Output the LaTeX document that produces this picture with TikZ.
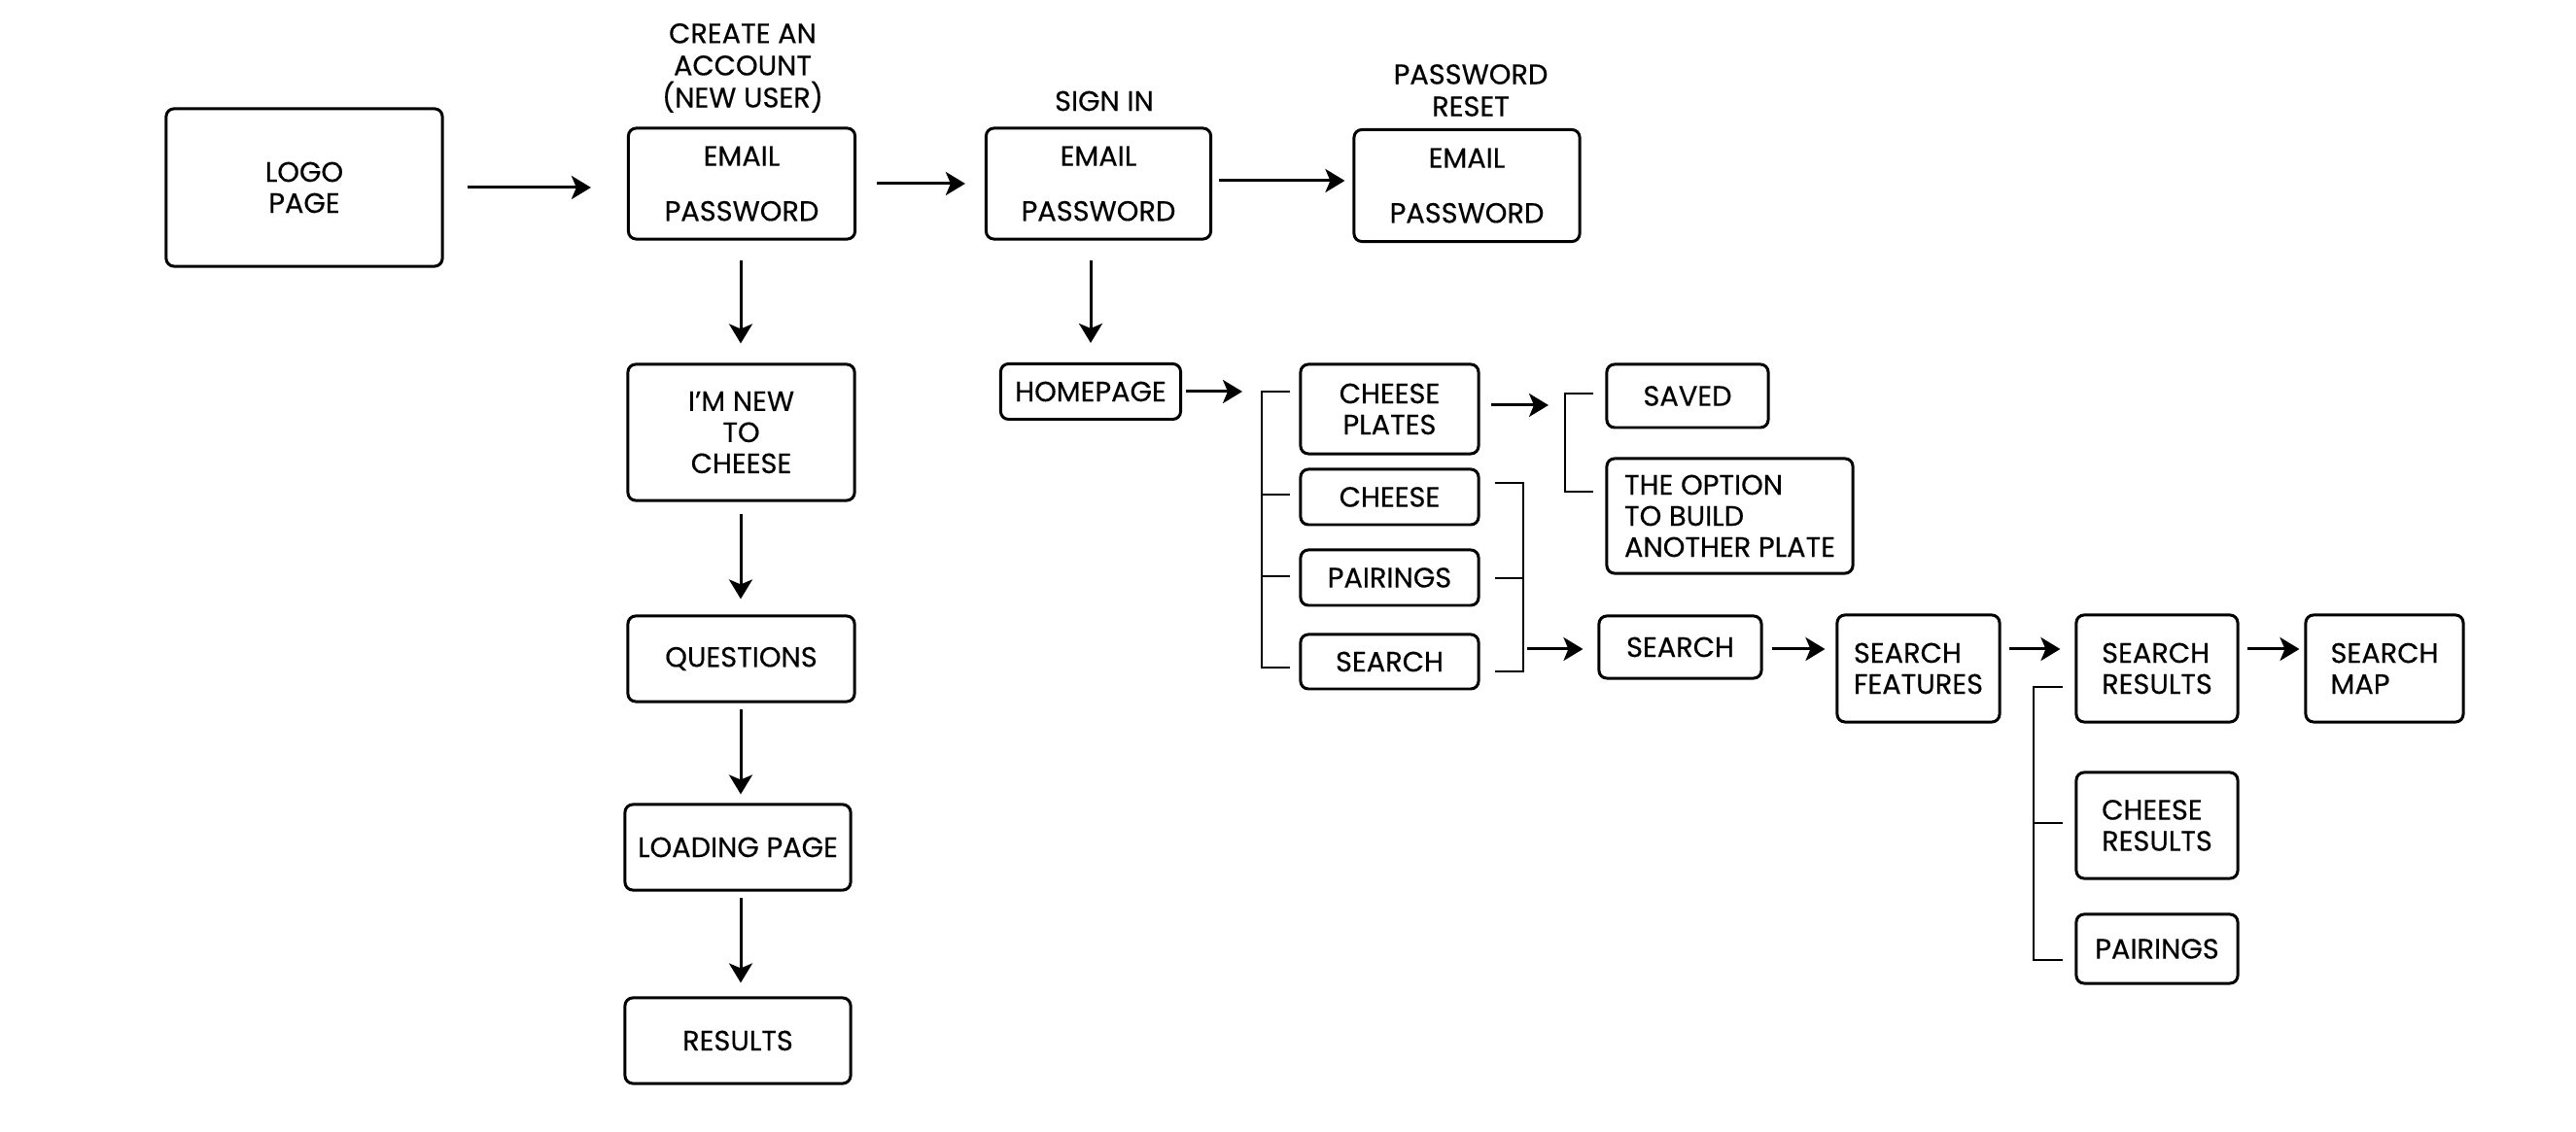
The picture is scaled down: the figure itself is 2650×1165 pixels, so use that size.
\documentclass[tikz,border=0pt]{standalone}
\usepackage{fontspec}
\setmainfont{Poppins}[FakeBold=0.35]
\usetikzlibrary{arrows.meta}
\newcommand\fsz{\fontsize{8.2}{9.1}\selectfont}
\begin{document}
\begin{tikzpicture}[x=0.01cm,y=-0.01cm,
  box/.style={draw, line width=0.85pt, rounded corners=0.08cm, inner sep=0pt, align=center, font=\fsz},
  lbox/.style={box, align=left},
  ttl/.style={inner sep=0pt, align=center, font=\fontsize{8.2}{9.4}\selectfont},
  arr/.style={-{Stealth[length=0.2cm,width=0.24cm,inset=0.05cm]}, line width=0.85pt},
  brk/.style={line width=0.8pt}]
\useasboundingbox[fill=white] (0,0) rectangle (2650,1165);

% top row
\node[box, minimum width=2.84cm, minimum height=1.62cm] (logo) at (313,193) {LOGO\\PAGE};
\node[box, minimum width=2.33cm, minimum height=1.14cm] (create) at (763,189) {EMAIL\\[7pt]PASSWORD};
\node[box, minimum width=2.31cm, minimum height=1.14cm] (signin) at (1130,189) {EMAIL\\[7pt]PASSWORD};
\node[box, minimum width=2.32cm, minimum height=1.15cm] (reset) at (1509,191) {EMAIL\\[7pt]PASSWORD};
\node[ttl] (createT) at (764,70) {CREATE AN\\ACCOUNT\\(NEW USER)};
\node[ttl] (signinT) at (1136,104) {SIGN IN};
\node[ttl] (resetT) at (1513,93) {PASSWORD\\RESET};

\draw[arr, shorten <=0.24cm, shorten >=0.37cm] (logo) -- (logo -| create.west);
\draw[arr, shorten <=0.21cm, shorten >=0.2cm] (create) -- (create -| signin.west);
\draw[arr, shorten <=0.07cm, shorten >=0.08cm] (signin.east |- 0,186) -- (reset.west |- 0,186);

% left column
\node[box, minimum width=2.33cm, minimum height=1.40cm] (imnew) at (762.5,445) {I’M NEW\\TO\\CHEESE};
\node[box, minimum width=2.33cm, minimum height=0.88cm] (questions) at (762.5,678) {QUESTIONS};
\node[box, minimum width=2.32cm, minimum height=0.88cm] (loading) at (759,872) {LOADING PAGE};
\node[box, minimum width=2.32cm, minimum height=0.88cm] (results) at (759,1071) {RESULTS};

\draw[arr, shorten <=0.2cm, shorten >=0.2cm] (create.south -| 762,0) -- (imnew.north -| 762,0);
\draw[arr, shorten <=0.12cm, shorten >=0.16cm] (imnew.south -| 762,0) -- (questions.north -| 762,0);
\draw[arr, shorten <=0.06cm, shorten >=0.09cm] (questions.south -| 762,0) -- (loading.north -| 762,0);
\draw[arr, shorten <=0.06cm, shorten >=0.14cm] (loading.south -| 762,0) -- (results.north -| 762,0);

% homepage cluster
\node[box, minimum width=1.85cm, minimum height=0.57cm] (home) at (1122,403) {HOMEPAGE};
\draw[arr, shorten <=0.2cm, shorten >=0.2cm] (home.south |- signin.south) -- (home.north);

\node[box, minimum width=1.83cm, minimum height=0.92cm] (cplates) at (1429.5,421) {CHEESE\\PLATES};
\node[box, minimum width=1.83cm, minimum height=0.57cm] (cheese) at (1429.5,511.5) {CHEESE};
\node[box, minimum width=1.83cm, minimum height=0.57cm] (pairings) at (1429.5,594.5) {PAIRINGS};
\node[box, minimum width=1.83cm, minimum height=0.56cm] (search) at (1429.5,681) {SEARCH};

\coordinate (hbr) at (1298,403);
\draw[arr, shorten <=0.04cm, shorten >=0.2cm] (home.east) -- (hbr);
\draw[brk] (1327,403) -- (1298,403) -- (1298,687) -- (1327,687);
\draw[brk] (1298,509) -- (1327,509);
\draw[brk] (1298,593) -- (1327,593);

\draw[brk] (1538,497) -- (1567,497) -- (1567,691) -- (1538,691);
\draw[brk] (1538,595) -- (1567,595);
\coordinate (sbr) at (1571,668);

% saved / option
\node[box, minimum width=1.66cm, minimum height=0.65cm] (saved) at (1736,407.5) {SAVED};
\node[lbox, minimum width=2.53cm, minimum height=1.18cm] (option) at (1779.5,531) {THE OPTION\\TO BUILD\\ANOTHER PLATE};
\coordinate (cpr) at (1534,417);
\draw[arr, shorten >=0.17cm] (cpr) -- (1610,417);
\draw[brk] (1639,405) -- (1610,405) -- (1610,506) -- (1639,506);

% search chain
\node[box, minimum width=1.67cm, minimum height=0.64cm] (search2) at (1728.5,666) {SEARCH};
\node[lbox, minimum width=1.67cm, minimum height=1.10cm] (sfeat) at (1973.5,688) {SEARCH\\FEATURES};
\node[lbox, minimum width=1.66cm, minimum height=1.10cm] (sres) at (2219,688) {SEARCH\\RESULTS};
\node[lbox, minimum width=1.62cm, minimum height=1.10cm] (smap) at (2453,688) {SEARCH\\MAP};
\node[lbox, minimum width=1.66cm, minimum height=1.09cm] (cres) at (2219,849.5) {CHEESE\\RESULTS};
\node[box, minimum width=1.66cm, minimum height=0.71cm] (pair2) at (2219,976.5) {PAIRINGS};

\draw[arr, shorten >=0.15cm] (sbr) -- (search2.west |- sbr);
\draw[arr, shorten <=0.09cm, shorten >=0.11cm] (search2.east |- sbr) -- (sfeat.west |- sbr);
\draw[arr, shorten <=0.08cm, shorten >=0.15cm] (sfeat.east |- sbr) -- (sres.west |- sbr);
\draw[arr, shorten <=0.08cm, shorten >=0.05cm] (sres.east |- sbr) -- (smap.west |- sbr);

\draw[brk] (2122,707) -- (2092,707) -- (2092,988) -- (2122,988);
\draw[brk] (2092,847) -- (2122,847);
\end{tikzpicture}
\end{document}
